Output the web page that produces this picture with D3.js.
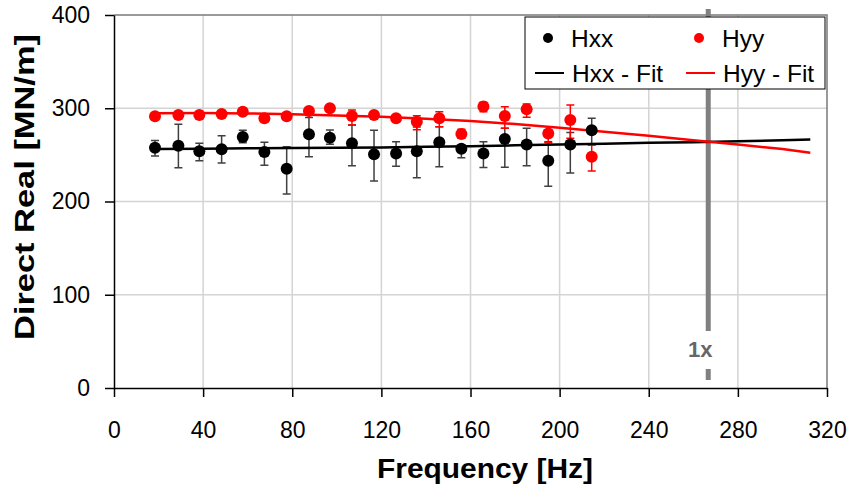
<!DOCTYPE html>
<html>
<head>
<meta charset="utf-8">
<script src="https://cdn.jsdelivr.net/npm/d3@7"></script>
<style>
  body { margin: 0; background: #fff; }
  svg { display: block; font-family: "Liberation Sans", Arial, sans-serif; }
</style>
</head>
<body>
<svg id="chart" width="853" height="491"></svg>
<script>
// measured frequencies of the test points [Hz]
var freq = [18.4, 28.9, 38.3, 48.3, 57.8, 67.5, 77.5, 87.5, 96.9, 106.8, 116.7, 126.6, 135.9, 146.0, 155.9, 165.8, 175.4, 185.2, 194.9, 204.8, 214.4];

// Hxx direct real stiffness [MN/m] with error bar limits
var hxx   = [257.7, 259.9, 253.8, 256.0, 269.2, 253.1, 235.2, 272.2, 268.4, 262.4, 250.6, 251.4, 254.0, 263.5, 256.5, 251.6, 267.0, 261.0, 243.6, 261.0, 276.5];
var hxxLo = [248.8, 236.3, 243.8, 241.3, 263.1, 238.8, 208.0, 248.0, 261.3, 238.4, 222.0, 237.7, 225.5, 237.3, 247.0, 236.5, 236.7, 238.4, 216.3, 230.5, 260.6];
var hxxHi = [265.3, 282.8, 262.4, 270.6, 276.3, 263.5, 258.8, 290.0, 276.7, 282.0, 276.3, 264.1, 280.0, 280.2, 260.6, 264.1, 278.5, 278.5, 264.1, 274.0, 289.2];

// Hyy direct real stiffness [MN/m] with error bar limits
var hyy   = [291.4, 292.8, 292.8, 293.8, 296.3, 289.2, 291.4, 297.0, 300.0, 291.7, 292.8, 289.2, 285.6, 289.2, 272.5, 302.0, 291.7, 298.9, 273.0, 287.3, 248.0];
var hyyLo = [288.5, 290.5, 290.5, 291.5, 294.0, 286.5, 289.0, 294.0, 298.0, 282.0, 290.0, 286.5, 277.0, 280.2, 267.8, 296.3, 278.5, 290.3, 263.1, 267.8, 232.7];
var hyyHi = [294.5, 295.0, 295.0, 296.0, 298.5, 292.0, 293.5, 300.0, 302.0, 298.0, 295.5, 292.0, 292.0, 296.3, 277.5, 306.4, 301.7, 304.6, 277.0, 303.5, 261.0];

// fitted curves
var fitFreq = [18.5, 40, 60, 80, 100, 120, 140, 160, 180, 200, 220, 240, 260, 280, 300, 312.5];
var hxxFit  = [256.3, 256.6, 257.0, 257.3, 257.7, 258.0, 258.6, 259.3, 260.2, 261.1, 262.0, 263.0, 263.6, 264.5, 265.6, 266.5];
var hyyFit  = [294.6, 295.0, 294.5, 293.5, 292.3, 290.8, 288.8, 286.3, 283.0, 279.0, 274.8, 270.4, 265.8, 261.0, 256.2, 252.3];

// running speed marker
var runSpeed = 266.7;
var runLabel = "1x";

var xTicks = [0, 40, 80, 120, 160, 200, 240, 280, 320];
var yTicks = [0, 100, 200, 300, 400];

var plotLeft = 114, plotRight = 827, plotTop = 15, plotBottom = 388;

var svg = d3.select("#chart");

var xScale = d3.scaleLinear().domain([0, 320]).range([plotLeft, plotRight]);
var yScale = d3.scaleLinear().domain([0, 400]).range([plotBottom, plotTop]);

// grid
var grid = svg.append("g");
grid.selectAll(".vg").data(xTicks.filter(function(d) { return d > 0 && d < 320; }))
    .enter().append("line")
    .attr("x1", function(d) { return xScale(d); })
    .attr("x2", function(d) { return xScale(d); })
    .attr("y1", plotTop).attr("y2", plotBottom)
    .style("stroke", "#d4d4d4").style("stroke-width", 1.5);
grid.selectAll(".hg").data(yTicks.filter(function(d) { return d > 0 && d < 400; }))
    .enter().append("line")
    .attr("x1", plotLeft).attr("x2", plotRight)
    .attr("y1", function(d) { return yScale(d); })
    .attr("y2", function(d) { return yScale(d); })
    .style("stroke", "#d4d4d4").style("stroke-width", 1.5);

// top / right frame
svg.append("path")
    .attr("d", "M " + plotLeft + " " + plotTop + " L " + plotRight + " " + plotTop + " L " + plotRight + " " + plotBottom)
    .attr("fill", "none")
    .style("stroke", "#7a7a7a").style("stroke-width", 1.5);

// axes
var xAxis = svg.append("g")
    .attr("transform", "translate(0," + plotBottom + ")")
    .call(d3.axisBottom(xScale).tickValues(xTicks).tickSize(9).tickSizeOuter(0).tickPadding(25));
var yAxis = svg.append("g")
    .attr("transform", "translate(" + plotLeft + ",0)")
    .call(d3.axisLeft(yScale).tickValues(yTicks).tickSize(9).tickSizeOuter(0).tickPadding(15));

[xAxis, yAxis].forEach(function(ax) {
    ax.select(".domain").style("stroke", "#000").style("stroke-width", 1.5);
    ax.selectAll(".tick line").style("stroke", "#000").style("stroke-width", 1.5);
    ax.selectAll("text")
        .style("font-family", "'Liberation Sans', Arial, sans-serif")
        .style("font-size", "23px")
        .style("fill", "#000");
});

// running speed line
var rx = xScale(runSpeed);
svg.append("line")
    .attr("x1", rx).attr("x2", rx).attr("y1", 9).attr("y2", 331)
    .style("stroke", "#808080").style("stroke-width", 5);
svg.append("line")
    .attr("x1", rx).attr("x2", rx).attr("y1", 369).attr("y2", 380)
    .style("stroke", "#808080").style("stroke-width", 5);
svg.append("text")
    .attr("x", rx - 8).attr("y", 357)
    .attr("text-anchor", "middle")
    .style("font-weight", "bold").style("font-size", "22px").style("fill", "#666")
    .text(runLabel);

// error bars
function errorBars(lo, hi, color) {
    var g = svg.append("g");
    for (var i = 0; i < freq.length; i++) {
        var cx = xScale(freq[i]);
        var y1 = yScale(hi[i]), y2 = yScale(lo[i]);
        g.append("path")
            .attr("d", "M " + cx + " " + y1 + " L " + cx + " " + y2 +
                       " M " + (cx - 4) + " " + y1 + " L " + (cx + 4) + " " + y1 +
                       " M " + (cx - 4) + " " + y2 + " L " + (cx + 4) + " " + y2)
            .attr("fill", "none")
            .attr("stroke", color)
            .attr("stroke-width", 1.5);
    }
}
errorBars(hxxLo, hxxHi, "#404040");
errorBars(hyyLo, hyyHi, "#ff0000");

// fit lines
var line = d3.line()
    .x(function(d) { return xScale(d[0]); })
    .y(function(d) { return yScale(d[1]); });

svg.append("path")
    .attr("d", line(d3.zip(fitFreq, hxxFit)))
    .attr("fill", "none").attr("stroke", "#000").attr("stroke-width", 2.5);
svg.append("path")
    .attr("d", line(d3.zip(fitFreq, hyyFit)))
    .attr("fill", "none").attr("stroke", "#ff0000").attr("stroke-width", 2.5);

// points
svg.append("g").selectAll("circle").data(d3.zip(freq, hxx)).enter().append("circle")
    .attr("cx", function(d) { return xScale(d[0]); })
    .attr("cy", function(d) { return yScale(d[1]); })
    .attr("r", 6)
    .style("fill", "#000");
svg.append("g").selectAll("circle").data(d3.zip(freq, hyy)).enter().append("circle")
    .attr("cx", function(d) { return xScale(d[0]); })
    .attr("cy", function(d) { return yScale(d[1]); })
    .attr("r", 6)
    .style("fill", "#ff0000");

// axis titles
svg.append("text")
    .attr("x", 485).attr("y", 478)
    .attr("text-anchor", "middle")
    .attr("textLength", 216).attr("lengthAdjust", "spacingAndGlyphs")
    .style("font-weight", "bold").style("font-size", "28px")
    .text("Frequency [Hz]");
svg.append("text")
    .attr("transform", "translate(34,187) rotate(-90)")
    .attr("text-anchor", "middle")
    .attr("textLength", 306).attr("lengthAdjust", "spacingAndGlyphs")
    .style("font-weight", "bold").style("font-size", "28px")
    .text("Direct Real [MN/m]");

// legend
var legend = svg.append("g");
legend.append("rect")
    .attr("x", 525).attr("y", 17).attr("width", 300).attr("height", 72)
    .style("fill", "#fff").style("stroke", "#000").style("stroke-width", 1);

var legendItems = [
    { name: "Hxx", color: "#000", kind: "dot", x: 548, y: 38 },
    { name: "Hyy", color: "#ff0000", kind: "dot", x: 699, y: 38 },
    { name: "Hxx - Fit", color: "#000", kind: "line", x: 549, y: 73 },
    { name: "Hyy - Fit", color: "#ff0000", kind: "line", x: 700, y: 73 }
];
legendItems.forEach(function(d) {
    if (d.kind == "dot") {
        legend.append("circle").attr("cx", d.x).attr("cy", d.y).attr("r", 5).style("fill", d.color);
    } else {
        legend.append("line")
            .attr("x1", d.x - 14).attr("x2", d.x + 15)
            .attr("y1", d.y).attr("y2", d.y)
            .style("stroke", d.color).style("stroke-width", 2);
    }
    legend.append("text")
        .attr("x", d.x + 23).attr("y", d.y + 8.5)
        .style("font-size", "24.5px")
        .text(d.name);
});
</script>
</body>
</html>
